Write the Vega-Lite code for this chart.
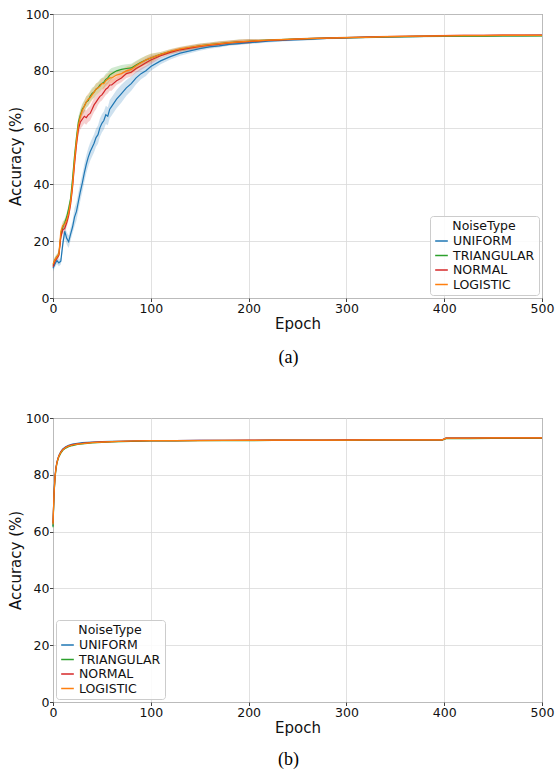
{
  "$schema": "https://vega.github.io/schema/vega-lite/v6.json",
  "background": "white",
  "padding": {"left": 8, "top": 7, "right": 0, "bottom": 0},
  "config": {
    "font": "DejaVu Sans",
    "view": {"stroke": "#444444", "strokeWidth": 1},
    "axis": {
      "labelFont": "DejaVu Sans", "labelFontSize": 12.5, "labelColor": "#111111",
      "titleFont": "DejaVu Sans", "titleFontSize": 15, "titleFontWeight": "normal", "titleColor": "#111111",
      "domain": false, "tickColor": "#444444", "tickSize": 3.5, "labelPadding": 0.5,
      "gridColor": "#d9d9d9", "gridWidth": 0.8, "labelFlush": false, "titlePadding": 1.5
    },
    "legend": {
      "labelFont": "DejaVu Sans", "labelFontSize": 12.5, "labelColor": "#111111",
      "titleFont": "DejaVu Sans", "titleFontSize": 12.5, "titleFontWeight": "normal", "titleColor": "#111111",
      "titleAnchor": "middle", "titlePadding": 1,
      "fillColor": "rgba(255,255,255,0.85)", "strokeColor": "#cccccc", "cornerRadius": 3,
      "padding": 4, "offset": 3, "rowPadding": 0.5,
      "symbolType": "stroke", "symbolSize": 160, "symbolStrokeWidth": 1.5, "labelOffset": 4
    }
  },
  "datasets": {
    "a": [
      {"e":0,"n":"UNIFORM","y":10.5,"lo":9.3,"hi":11.7},{"e":2,"n":"UNIFORM","y":12.0,"lo":10.8,"hi":13.2},{"e":4,"n":"UNIFORM","y":13.2,"lo":12.0,"hi":14.4},{"e":6,"n":"UNIFORM","y":12.4,"lo":11.2,"hi":13.6},{"e":8,"n":"UNIFORM","y":13.0,"lo":11.8,"hi":14.2},{"e":10,"n":"UNIFORM","y":19.0,"lo":16.8,"hi":21.2},{"e":12,"n":"UNIFORM","y":23.5,"lo":21.3,"hi":25.7},{"e":14,"n":"UNIFORM","y":21.0,"lo":18.8,"hi":23.2},{"e":16,"n":"UNIFORM","y":19.8,"lo":17.6,"hi":22.0},{"e":18,"n":"UNIFORM","y":22.5,"lo":20.3,"hi":24.7},{"e":20,"n":"UNIFORM","y":25.0,"lo":22.8,"hi":27.2},{"e":22,"n":"UNIFORM","y":28.5,"lo":25.3,"hi":31.7},{"e":24,"n":"UNIFORM","y":30.5,"lo":27.3,"hi":33.7},{"e":26,"n":"UNIFORM","y":34.0,"lo":30.8,"hi":37.2},{"e":28,"n":"UNIFORM","y":37.5,"lo":34.3,"hi":40.7},{"e":30,"n":"UNIFORM","y":40.5,"lo":37.3,"hi":43.7},{"e":32,"n":"UNIFORM","y":44.0,"lo":40.8,"hi":47.2},{"e":34,"n":"UNIFORM","y":47.0,"lo":43.8,"hi":50.2},{"e":36,"n":"UNIFORM","y":49.5,"lo":46.3,"hi":52.7},{"e":38,"n":"UNIFORM","y":51.5,"lo":48.3,"hi":54.7},{"e":40,"n":"UNIFORM","y":53.0,"lo":49.8,"hi":56.2},{"e":42,"n":"UNIFORM","y":54.5,"lo":51.3,"hi":57.7},{"e":44,"n":"UNIFORM","y":56.5,"lo":53.3,"hi":59.7},{"e":46,"n":"UNIFORM","y":57.5,"lo":54.3,"hi":60.7},{"e":48,"n":"UNIFORM","y":60.0,"lo":56.8,"hi":63.2},{"e":50,"n":"UNIFORM","y":61.5,"lo":58.3,"hi":64.7},{"e":52,"n":"UNIFORM","y":62.5,"lo":59.3,"hi":65.7},{"e":54,"n":"UNIFORM","y":64.5,"lo":61.3,"hi":67.7},{"e":56,"n":"UNIFORM","y":64.0,"lo":60.8,"hi":67.2},{"e":58,"n":"UNIFORM","y":66.5,"lo":63.3,"hi":69.7},{"e":60,"n":"UNIFORM","y":67.5,"lo":64.3,"hi":70.7},{"e":65,"n":"UNIFORM","y":70.0,"lo":66.8,"hi":73.2},{"e":70,"n":"UNIFORM","y":72.0,"lo":68.8,"hi":75.2},{"e":75,"n":"UNIFORM","y":74.0,"lo":71.2,"hi":76.8},{"e":80,"n":"UNIFORM","y":75.5,"lo":73.0,"hi":78.0},{"e":85,"n":"UNIFORM","y":77.5,"lo":75.3,"hi":79.7},{"e":90,"n":"UNIFORM","y":79.0,"lo":77.0,"hi":81.0},{"e":95,"n":"UNIFORM","y":80.0,"lo":78.2,"hi":81.8},{"e":100,"n":"UNIFORM","y":81.5,"lo":80.0,"hi":83.0},{"e":110,"n":"UNIFORM","y":83.5,"lo":82.3,"hi":84.7},{"e":120,"n":"UNIFORM","y":85.0,"lo":84.0,"hi":86.0},{"e":130,"n":"UNIFORM","y":86.2,"lo":85.3,"hi":87.1},{"e":140,"n":"UNIFORM","y":87.0,"lo":86.2,"hi":87.8},{"e":150,"n":"UNIFORM","y":87.8,"lo":87.1,"hi":88.5},{"e":160,"n":"UNIFORM","y":88.4,"lo":87.8,"hi":89.0},{"e":170,"n":"UNIFORM","y":88.8,"lo":88.2,"hi":89.4},{"e":180,"n":"UNIFORM","y":89.3,"lo":88.8,"hi":89.8},{"e":190,"n":"UNIFORM","y":89.6,"lo":89.1,"hi":90.1},{"e":200,"n":"UNIFORM","y":89.9,"lo":89.4,"hi":90.4},{"e":220,"n":"UNIFORM","y":90.4,"lo":90.0,"hi":90.8},{"e":240,"n":"UNIFORM","y":90.8,"lo":90.4,"hi":91.2},{"e":260,"n":"UNIFORM","y":91.1,"lo":90.7,"hi":91.5},{"e":280,"n":"UNIFORM","y":91.4,"lo":91.1,"hi":91.7},{"e":300,"n":"UNIFORM","y":91.6,"lo":91.3,"hi":91.9},{"e":320,"n":"UNIFORM","y":91.8,"lo":91.5,"hi":92.1},{"e":340,"n":"UNIFORM","y":91.9,"lo":91.6,"hi":92.2},{"e":360,"n":"UNIFORM","y":92.0,"lo":91.7,"hi":92.3},{"e":380,"n":"UNIFORM","y":92.1,"lo":91.8,"hi":92.4},{"e":400,"n":"UNIFORM","y":92.2,"lo":91.9,"hi":92.5},{"e":420,"n":"UNIFORM","y":92.3,"lo":92.0,"hi":92.6},{"e":440,"n":"UNIFORM","y":92.3,"lo":92.0,"hi":92.6},{"e":460,"n":"UNIFORM","y":92.4,"lo":92.1,"hi":92.7},{"e":480,"n":"UNIFORM","y":92.4,"lo":92.1,"hi":92.7},{"e":500,"n":"UNIFORM","y":92.5,"lo":92.2,"hi":92.8},
      {"e":0,"n":"TRIANGULAR","y":11.5,"lo":10.5,"hi":12.5},{"e":2,"n":"TRIANGULAR","y":13.5,"lo":12.5,"hi":14.5},{"e":4,"n":"TRIANGULAR","y":14.5,"lo":13.5,"hi":15.5},{"e":6,"n":"TRIANGULAR","y":15.5,"lo":14.5,"hi":16.5},{"e":8,"n":"TRIANGULAR","y":22.0,"lo":20.5,"hi":23.5},{"e":10,"n":"TRIANGULAR","y":25.0,"lo":23.5,"hi":26.5},{"e":12,"n":"TRIANGULAR","y":26.5,"lo":25.0,"hi":28.0},{"e":14,"n":"TRIANGULAR","y":28.5,"lo":27.0,"hi":30.0},{"e":16,"n":"TRIANGULAR","y":31.5,"lo":30.0,"hi":33.0},{"e":18,"n":"TRIANGULAR","y":35.0,"lo":33.5,"hi":36.5},{"e":20,"n":"TRIANGULAR","y":42.0,"lo":40.0,"hi":44.0},{"e":22,"n":"TRIANGULAR","y":50.0,"lo":48.0,"hi":52.0},{"e":24,"n":"TRIANGULAR","y":56.5,"lo":54.5,"hi":58.5},{"e":26,"n":"TRIANGULAR","y":62.0,"lo":60.0,"hi":64.0},{"e":28,"n":"TRIANGULAR","y":64.5,"lo":62.5,"hi":66.5},{"e":30,"n":"TRIANGULAR","y":66.5,"lo":64.5,"hi":68.5},{"e":32,"n":"TRIANGULAR","y":67.5,"lo":65.5,"hi":69.5},{"e":34,"n":"TRIANGULAR","y":69.0,"lo":67.0,"hi":71.0},{"e":36,"n":"TRIANGULAR","y":69.5,"lo":67.5,"hi":71.5},{"e":38,"n":"TRIANGULAR","y":71.0,"lo":69.0,"hi":73.0},{"e":40,"n":"TRIANGULAR","y":72.0,"lo":70.0,"hi":74.0},{"e":42,"n":"TRIANGULAR","y":72.5,"lo":70.5,"hi":74.5},{"e":44,"n":"TRIANGULAR","y":73.5,"lo":71.5,"hi":75.5},{"e":46,"n":"TRIANGULAR","y":74.0,"lo":72.0,"hi":76.0},{"e":48,"n":"TRIANGULAR","y":75.0,"lo":73.0,"hi":77.0},{"e":50,"n":"TRIANGULAR","y":75.5,"lo":73.5,"hi":77.5},{"e":52,"n":"TRIANGULAR","y":76.0,"lo":74.0,"hi":78.0},{"e":54,"n":"TRIANGULAR","y":77.0,"lo":75.0,"hi":79.0},{"e":56,"n":"TRIANGULAR","y":77.5,"lo":75.5,"hi":79.5},{"e":58,"n":"TRIANGULAR","y":78.5,"lo":76.5,"hi":80.5},{"e":60,"n":"TRIANGULAR","y":79.0,"lo":77.0,"hi":81.0},{"e":65,"n":"TRIANGULAR","y":80.0,"lo":78.5,"hi":81.5},{"e":70,"n":"TRIANGULAR","y":80.5,"lo":79.0,"hi":82.0},{"e":75,"n":"TRIANGULAR","y":80.8,"lo":79.3,"hi":82.3},{"e":80,"n":"TRIANGULAR","y":81.0,"lo":79.5,"hi":82.5},{"e":85,"n":"TRIANGULAR","y":82.0,"lo":80.5,"hi":83.5},{"e":90,"n":"TRIANGULAR","y":83.0,"lo":81.5,"hi":84.5},{"e":95,"n":"TRIANGULAR","y":83.8,"lo":82.3,"hi":85.3},{"e":100,"n":"TRIANGULAR","y":84.5,"lo":83.0,"hi":86.0},{"e":110,"n":"TRIANGULAR","y":85.8,"lo":85.0,"hi":86.6},{"e":120,"n":"TRIANGULAR","y":86.8,"lo":86.0,"hi":87.6},{"e":130,"n":"TRIANGULAR","y":87.6,"lo":86.8,"hi":88.4},{"e":140,"n":"TRIANGULAR","y":88.2,"lo":87.4,"hi":89.0},{"e":150,"n":"TRIANGULAR","y":88.8,"lo":88.0,"hi":89.6},{"e":160,"n":"TRIANGULAR","y":89.2,"lo":88.4,"hi":90.0},{"e":170,"n":"TRIANGULAR","y":89.6,"lo":88.8,"hi":90.4},{"e":180,"n":"TRIANGULAR","y":89.9,"lo":89.1,"hi":90.7},{"e":190,"n":"TRIANGULAR","y":90.2,"lo":89.4,"hi":91.0},{"e":200,"n":"TRIANGULAR","y":90.4,"lo":89.6,"hi":91.2},{"e":220,"n":"TRIANGULAR","y":90.8,"lo":90.5,"hi":91.1},{"e":240,"n":"TRIANGULAR","y":91.1,"lo":90.8,"hi":91.4},{"e":260,"n":"TRIANGULAR","y":91.3,"lo":91.0,"hi":91.6},{"e":280,"n":"TRIANGULAR","y":91.5,"lo":91.2,"hi":91.8},{"e":300,"n":"TRIANGULAR","y":91.7,"lo":91.4,"hi":92.0},{"e":320,"n":"TRIANGULAR","y":91.8,"lo":91.5,"hi":92.1},{"e":340,"n":"TRIANGULAR","y":91.9,"lo":91.6,"hi":92.2},{"e":360,"n":"TRIANGULAR","y":92.0,"lo":91.7,"hi":92.3},{"e":380,"n":"TRIANGULAR","y":92.1,"lo":91.8,"hi":92.4},{"e":400,"n":"TRIANGULAR","y":92.2,"lo":91.9,"hi":92.5},{"e":420,"n":"TRIANGULAR","y":92.2,"lo":91.9,"hi":92.5},{"e":440,"n":"TRIANGULAR","y":92.2,"lo":91.9,"hi":92.5},{"e":460,"n":"TRIANGULAR","y":92.3,"lo":92.0,"hi":92.6},{"e":480,"n":"TRIANGULAR","y":92.3,"lo":92.0,"hi":92.6},{"e":500,"n":"TRIANGULAR","y":92.3,"lo":92.0,"hi":92.6},
      {"e":0,"n":"NORMAL","y":11.0,"lo":10.0,"hi":12.0},{"e":2,"n":"NORMAL","y":13.0,"lo":12.0,"hi":14.0},{"e":4,"n":"NORMAL","y":14.0,"lo":13.0,"hi":15.0},{"e":6,"n":"NORMAL","y":15.0,"lo":14.0,"hi":16.0},{"e":8,"n":"NORMAL","y":21.5,"lo":20.0,"hi":23.0},{"e":10,"n":"NORMAL","y":24.0,"lo":22.5,"hi":25.5},{"e":12,"n":"NORMAL","y":24.5,"lo":23.0,"hi":26.0},{"e":14,"n":"NORMAL","y":26.5,"lo":25.0,"hi":28.0},{"e":16,"n":"NORMAL","y":29.0,"lo":27.5,"hi":30.5},{"e":18,"n":"NORMAL","y":33.0,"lo":31.5,"hi":34.5},{"e":20,"n":"NORMAL","y":39.0,"lo":37.0,"hi":41.0},{"e":22,"n":"NORMAL","y":47.0,"lo":45.0,"hi":49.0},{"e":24,"n":"NORMAL","y":54.0,"lo":52.0,"hi":56.0},{"e":26,"n":"NORMAL","y":59.5,"lo":57.5,"hi":61.5},{"e":28,"n":"NORMAL","y":62.0,"lo":59.5,"hi":64.5},{"e":30,"n":"NORMAL","y":63.0,"lo":60.5,"hi":65.5},{"e":32,"n":"NORMAL","y":64.0,"lo":61.5,"hi":66.5},{"e":34,"n":"NORMAL","y":63.5,"lo":61.0,"hi":66.0},{"e":36,"n":"NORMAL","y":64.5,"lo":62.0,"hi":67.0},{"e":38,"n":"NORMAL","y":65.0,"lo":62.5,"hi":67.5},{"e":40,"n":"NORMAL","y":66.5,"lo":64.0,"hi":69.0},{"e":42,"n":"NORMAL","y":68.0,"lo":65.5,"hi":70.5},{"e":44,"n":"NORMAL","y":69.0,"lo":66.5,"hi":71.5},{"e":46,"n":"NORMAL","y":70.0,"lo":68.0,"hi":72.0},{"e":48,"n":"NORMAL","y":71.0,"lo":69.0,"hi":73.0},{"e":50,"n":"NORMAL","y":71.5,"lo":69.5,"hi":73.5},{"e":52,"n":"NORMAL","y":72.5,"lo":70.5,"hi":74.5},{"e":54,"n":"NORMAL","y":73.5,"lo":71.5,"hi":75.5},{"e":56,"n":"NORMAL","y":74.0,"lo":72.0,"hi":76.0},{"e":58,"n":"NORMAL","y":75.0,"lo":73.0,"hi":77.0},{"e":60,"n":"NORMAL","y":75.0,"lo":73.0,"hi":77.0},{"e":65,"n":"NORMAL","y":76.5,"lo":75.0,"hi":78.0},{"e":70,"n":"NORMAL","y":77.5,"lo":76.0,"hi":79.0},{"e":75,"n":"NORMAL","y":79.0,"lo":77.5,"hi":80.5},{"e":80,"n":"NORMAL","y":79.5,"lo":78.0,"hi":81.0},{"e":85,"n":"NORMAL","y":80.8,"lo":79.3,"hi":82.3},{"e":90,"n":"NORMAL","y":81.8,"lo":80.3,"hi":83.3},{"e":95,"n":"NORMAL","y":82.8,"lo":81.3,"hi":84.3},{"e":100,"n":"NORMAL","y":83.8,"lo":82.3,"hi":85.3},{"e":110,"n":"NORMAL","y":85.3,"lo":84.5,"hi":86.1},{"e":120,"n":"NORMAL","y":86.5,"lo":85.7,"hi":87.3},{"e":130,"n":"NORMAL","y":87.4,"lo":86.6,"hi":88.2},{"e":140,"n":"NORMAL","y":88.0,"lo":87.2,"hi":88.8},{"e":150,"n":"NORMAL","y":88.6,"lo":87.8,"hi":89.4},{"e":160,"n":"NORMAL","y":89.0,"lo":88.2,"hi":89.8},{"e":170,"n":"NORMAL","y":89.4,"lo":88.6,"hi":90.2},{"e":180,"n":"NORMAL","y":89.8,"lo":89.0,"hi":90.6},{"e":190,"n":"NORMAL","y":90.1,"lo":89.3,"hi":90.9},{"e":200,"n":"NORMAL","y":90.3,"lo":89.5,"hi":91.1},{"e":220,"n":"NORMAL","y":90.7,"lo":90.4,"hi":91.0},{"e":240,"n":"NORMAL","y":91.0,"lo":90.7,"hi":91.3},{"e":260,"n":"NORMAL","y":91.3,"lo":91.0,"hi":91.6},{"e":280,"n":"NORMAL","y":91.5,"lo":91.2,"hi":91.8},{"e":300,"n":"NORMAL","y":91.7,"lo":91.4,"hi":92.0},{"e":320,"n":"NORMAL","y":91.9,"lo":91.6,"hi":92.2},{"e":340,"n":"NORMAL","y":92.0,"lo":91.7,"hi":92.3},{"e":360,"n":"NORMAL","y":92.1,"lo":91.8,"hi":92.4},{"e":380,"n":"NORMAL","y":92.2,"lo":91.9,"hi":92.5},{"e":400,"n":"NORMAL","y":92.4,"lo":92.1,"hi":92.7},{"e":420,"n":"NORMAL","y":92.5,"lo":92.2,"hi":92.8},{"e":440,"n":"NORMAL","y":92.5,"lo":92.2,"hi":92.8},{"e":460,"n":"NORMAL","y":92.6,"lo":92.3,"hi":92.9},{"e":480,"n":"NORMAL","y":92.6,"lo":92.3,"hi":92.9},{"e":500,"n":"NORMAL","y":92.6,"lo":92.3,"hi":92.9},
      {"e":0,"n":"LOGISTIC","y":12.0,"lo":11.0,"hi":13.0},{"e":2,"n":"LOGISTIC","y":13.5,"lo":12.5,"hi":14.5},{"e":4,"n":"LOGISTIC","y":14.5,"lo":13.5,"hi":15.5},{"e":6,"n":"LOGISTIC","y":15.5,"lo":14.5,"hi":16.5},{"e":8,"n":"LOGISTIC","y":23.5,"lo":22.0,"hi":25.0},{"e":10,"n":"LOGISTIC","y":25.5,"lo":24.0,"hi":27.0},{"e":12,"n":"LOGISTIC","y":26.0,"lo":24.5,"hi":27.5},{"e":14,"n":"LOGISTIC","y":27.5,"lo":26.0,"hi":29.0},{"e":16,"n":"LOGISTIC","y":30.0,"lo":28.5,"hi":31.5},{"e":18,"n":"LOGISTIC","y":34.0,"lo":32.5,"hi":35.5},{"e":20,"n":"LOGISTIC","y":40.0,"lo":38.0,"hi":42.0},{"e":22,"n":"LOGISTIC","y":48.5,"lo":46.5,"hi":50.5},{"e":24,"n":"LOGISTIC","y":55.5,"lo":53.5,"hi":57.5},{"e":26,"n":"LOGISTIC","y":61.0,"lo":59.0,"hi":63.0},{"e":28,"n":"LOGISTIC","y":64.0,"lo":62.0,"hi":66.0},{"e":30,"n":"LOGISTIC","y":66.0,"lo":64.0,"hi":68.0},{"e":32,"n":"LOGISTIC","y":67.5,"lo":65.5,"hi":69.5},{"e":34,"n":"LOGISTIC","y":69.0,"lo":67.0,"hi":71.0},{"e":36,"n":"LOGISTIC","y":70.0,"lo":68.0,"hi":72.0},{"e":38,"n":"LOGISTIC","y":70.5,"lo":68.5,"hi":72.5},{"e":40,"n":"LOGISTIC","y":71.5,"lo":69.5,"hi":73.5},{"e":42,"n":"LOGISTIC","y":72.5,"lo":70.5,"hi":74.5},{"e":44,"n":"LOGISTIC","y":73.5,"lo":71.5,"hi":75.5},{"e":46,"n":"LOGISTIC","y":74.0,"lo":72.0,"hi":76.0},{"e":48,"n":"LOGISTIC","y":74.5,"lo":72.5,"hi":76.5},{"e":50,"n":"LOGISTIC","y":75.5,"lo":73.5,"hi":77.5},{"e":52,"n":"LOGISTIC","y":75.5,"lo":73.5,"hi":77.5},{"e":54,"n":"LOGISTIC","y":76.5,"lo":74.5,"hi":78.5},{"e":56,"n":"LOGISTIC","y":77.0,"lo":75.0,"hi":79.0},{"e":58,"n":"LOGISTIC","y":77.5,"lo":75.5,"hi":79.5},{"e":60,"n":"LOGISTIC","y":77.5,"lo":75.5,"hi":79.5},{"e":65,"n":"LOGISTIC","y":78.5,"lo":77.0,"hi":80.0},{"e":70,"n":"LOGISTIC","y":79.0,"lo":77.5,"hi":80.5},{"e":75,"n":"LOGISTIC","y":80.0,"lo":78.5,"hi":81.5},{"e":80,"n":"LOGISTIC","y":80.5,"lo":79.0,"hi":82.0},{"e":85,"n":"LOGISTIC","y":81.8,"lo":80.3,"hi":83.3},{"e":90,"n":"LOGISTIC","y":82.8,"lo":81.3,"hi":84.3},{"e":95,"n":"LOGISTIC","y":83.8,"lo":82.3,"hi":85.3},{"e":100,"n":"LOGISTIC","y":84.5,"lo":83.0,"hi":86.0},{"e":110,"n":"LOGISTIC","y":85.8,"lo":85.0,"hi":86.6},{"e":120,"n":"LOGISTIC","y":86.9,"lo":86.1,"hi":87.7},{"e":130,"n":"LOGISTIC","y":87.7,"lo":86.9,"hi":88.5},{"e":140,"n":"LOGISTIC","y":88.3,"lo":87.5,"hi":89.1},{"e":150,"n":"LOGISTIC","y":88.8,"lo":88.0,"hi":89.6},{"e":160,"n":"LOGISTIC","y":89.2,"lo":88.4,"hi":90.0},{"e":170,"n":"LOGISTIC","y":89.6,"lo":88.8,"hi":90.4},{"e":180,"n":"LOGISTIC","y":89.9,"lo":89.1,"hi":90.7},{"e":190,"n":"LOGISTIC","y":90.2,"lo":89.4,"hi":91.0},{"e":200,"n":"LOGISTIC","y":90.4,"lo":89.6,"hi":91.2},{"e":220,"n":"LOGISTIC","y":90.8,"lo":90.5,"hi":91.1},{"e":240,"n":"LOGISTIC","y":91.1,"lo":90.8,"hi":91.4},{"e":260,"n":"LOGISTIC","y":91.3,"lo":91.0,"hi":91.6},{"e":280,"n":"LOGISTIC","y":91.5,"lo":91.2,"hi":91.8},{"e":300,"n":"LOGISTIC","y":91.7,"lo":91.4,"hi":92.0},{"e":320,"n":"LOGISTIC","y":91.8,"lo":91.5,"hi":92.1},{"e":340,"n":"LOGISTIC","y":92.0,"lo":91.7,"hi":92.3},{"e":360,"n":"LOGISTIC","y":92.1,"lo":91.8,"hi":92.4},{"e":380,"n":"LOGISTIC","y":92.2,"lo":91.9,"hi":92.5},{"e":400,"n":"LOGISTIC","y":92.3,"lo":92.0,"hi":92.6},{"e":420,"n":"LOGISTIC","y":92.4,"lo":92.1,"hi":92.7},{"e":440,"n":"LOGISTIC","y":92.4,"lo":92.1,"hi":92.7},{"e":460,"n":"LOGISTIC","y":92.5,"lo":92.2,"hi":92.8},{"e":480,"n":"LOGISTIC","y":92.5,"lo":92.2,"hi":92.8},{"e":500,"n":"LOGISTIC","y":92.5,"lo":92.2,"hi":92.8}
    ],
    "b": [
      {"e":0,"n":"UNIFORM","y":62.0},{"e":1,"n":"UNIFORM","y":73.5},{"e":2,"n":"UNIFORM","y":79.5},{"e":3,"n":"UNIFORM","y":82.5},{"e":4,"n":"UNIFORM","y":84.5},{"e":5,"n":"UNIFORM","y":85.8},{"e":6,"n":"UNIFORM","y":86.8},{"e":8,"n":"UNIFORM","y":88.2},{"e":10,"n":"UNIFORM","y":89.1},{"e":13,"n":"UNIFORM","y":89.9},{"e":16,"n":"UNIFORM","y":90.4},{"e":20,"n":"UNIFORM","y":90.8},{"e":25,"n":"UNIFORM","y":91.1},{"e":30,"n":"UNIFORM","y":91.3},{"e":40,"n":"UNIFORM","y":91.5},{"e":50,"n":"UNIFORM","y":91.7},{"e":60,"n":"UNIFORM","y":91.8},{"e":80,"n":"UNIFORM","y":91.9},{"e":100,"n":"UNIFORM","y":92.0},{"e":125,"n":"UNIFORM","y":92.0},{"e":150,"n":"UNIFORM","y":92.1},{"e":175,"n":"UNIFORM","y":92.1},{"e":200,"n":"UNIFORM","y":92.1},{"e":225,"n":"UNIFORM","y":92.2},{"e":250,"n":"UNIFORM","y":92.2},{"e":275,"n":"UNIFORM","y":92.2},{"e":300,"n":"UNIFORM","y":92.2},{"e":325,"n":"UNIFORM","y":92.3},{"e":350,"n":"UNIFORM","y":92.3},{"e":375,"n":"UNIFORM","y":92.3},{"e":398,"n":"UNIFORM","y":92.3},{"e":402,"n":"UNIFORM","y":93.0},{"e":425,"n":"UNIFORM","y":93.0},{"e":450,"n":"UNIFORM","y":93.1},{"e":475,"n":"UNIFORM","y":93.1},{"e":500,"n":"UNIFORM","y":93.1},
      {"e":0,"n":"TRIANGULAR","y":61.5},{"e":1,"n":"TRIANGULAR","y":72.5},{"e":2,"n":"TRIANGULAR","y":78.5},{"e":3,"n":"TRIANGULAR","y":81.8},{"e":4,"n":"TRIANGULAR","y":84.0},{"e":5,"n":"TRIANGULAR","y":85.2},{"e":6,"n":"TRIANGULAR","y":86.3},{"e":8,"n":"TRIANGULAR","y":87.6},{"e":10,"n":"TRIANGULAR","y":88.6},{"e":13,"n":"TRIANGULAR","y":89.4},{"e":16,"n":"TRIANGULAR","y":89.9},{"e":20,"n":"TRIANGULAR","y":90.3},{"e":25,"n":"TRIANGULAR","y":90.7},{"e":30,"n":"TRIANGULAR","y":90.9},{"e":40,"n":"TRIANGULAR","y":91.2},{"e":50,"n":"TRIANGULAR","y":91.4},{"e":60,"n":"TRIANGULAR","y":91.6},{"e":80,"n":"TRIANGULAR","y":91.8},{"e":100,"n":"TRIANGULAR","y":91.9},{"e":125,"n":"TRIANGULAR","y":91.9},{"e":150,"n":"TRIANGULAR","y":92.0},{"e":175,"n":"TRIANGULAR","y":92.0},{"e":200,"n":"TRIANGULAR","y":92.0},{"e":225,"n":"TRIANGULAR","y":92.1},{"e":250,"n":"TRIANGULAR","y":92.1},{"e":275,"n":"TRIANGULAR","y":92.1},{"e":300,"n":"TRIANGULAR","y":92.1},{"e":325,"n":"TRIANGULAR","y":92.2},{"e":350,"n":"TRIANGULAR","y":92.2},{"e":375,"n":"TRIANGULAR","y":92.2},{"e":398,"n":"TRIANGULAR","y":92.2},{"e":402,"n":"TRIANGULAR","y":92.7},{"e":425,"n":"TRIANGULAR","y":92.7},{"e":450,"n":"TRIANGULAR","y":92.8},{"e":475,"n":"TRIANGULAR","y":92.8},{"e":500,"n":"TRIANGULAR","y":92.8},
      {"e":0,"n":"NORMAL","y":63.0},{"e":1,"n":"NORMAL","y":73.0},{"e":2,"n":"NORMAL","y":79.0},{"e":3,"n":"NORMAL","y":82.3},{"e":4,"n":"NORMAL","y":84.3},{"e":5,"n":"NORMAL","y":85.6},{"e":6,"n":"NORMAL","y":86.6},{"e":8,"n":"NORMAL","y":88.0},{"e":10,"n":"NORMAL","y":88.9},{"e":13,"n":"NORMAL","y":89.7},{"e":16,"n":"NORMAL","y":90.2},{"e":20,"n":"NORMAL","y":90.6},{"e":25,"n":"NORMAL","y":90.9},{"e":30,"n":"NORMAL","y":91.1},{"e":40,"n":"NORMAL","y":91.4},{"e":50,"n":"NORMAL","y":91.6},{"e":60,"n":"NORMAL","y":91.7},{"e":80,"n":"NORMAL","y":91.9},{"e":100,"n":"NORMAL","y":92.0},{"e":125,"n":"NORMAL","y":92.0},{"e":150,"n":"NORMAL","y":92.1},{"e":175,"n":"NORMAL","y":92.1},{"e":200,"n":"NORMAL","y":92.2},{"e":225,"n":"NORMAL","y":92.2},{"e":250,"n":"NORMAL","y":92.2},{"e":275,"n":"NORMAL","y":92.2},{"e":300,"n":"NORMAL","y":92.3},{"e":325,"n":"NORMAL","y":92.3},{"e":350,"n":"NORMAL","y":92.3},{"e":375,"n":"NORMAL","y":92.3},{"e":398,"n":"NORMAL","y":92.3},{"e":402,"n":"NORMAL","y":92.9},{"e":425,"n":"NORMAL","y":92.9},{"e":450,"n":"NORMAL","y":93.0},{"e":475,"n":"NORMAL","y":93.0},{"e":500,"n":"NORMAL","y":93.0},
      {"e":0,"n":"LOGISTIC","y":62.5},{"e":1,"n":"LOGISTIC","y":73.0},{"e":2,"n":"LOGISTIC","y":79.0},{"e":3,"n":"LOGISTIC","y":82.2},{"e":4,"n":"LOGISTIC","y":84.2},{"e":5,"n":"LOGISTIC","y":85.5},{"e":6,"n":"LOGISTIC","y":86.5},{"e":8,"n":"LOGISTIC","y":87.9},{"e":10,"n":"LOGISTIC","y":88.8},{"e":13,"n":"LOGISTIC","y":89.6},{"e":16,"n":"LOGISTIC","y":90.1},{"e":20,"n":"LOGISTIC","y":90.5},{"e":25,"n":"LOGISTIC","y":90.8},{"e":30,"n":"LOGISTIC","y":91.0},{"e":40,"n":"LOGISTIC","y":91.3},{"e":50,"n":"LOGISTIC","y":91.5},{"e":60,"n":"LOGISTIC","y":91.7},{"e":80,"n":"LOGISTIC","y":91.9},{"e":100,"n":"LOGISTIC","y":92.0},{"e":125,"n":"LOGISTIC","y":92.0},{"e":150,"n":"LOGISTIC","y":92.0},{"e":175,"n":"LOGISTIC","y":92.1},{"e":200,"n":"LOGISTIC","y":92.1},{"e":225,"n":"LOGISTIC","y":92.2},{"e":250,"n":"LOGISTIC","y":92.2},{"e":275,"n":"LOGISTIC","y":92.2},{"e":300,"n":"LOGISTIC","y":92.2},{"e":325,"n":"LOGISTIC","y":92.3},{"e":350,"n":"LOGISTIC","y":92.3},{"e":375,"n":"LOGISTIC","y":92.3},{"e":398,"n":"LOGISTIC","y":92.3},{"e":402,"n":"LOGISTIC","y":92.9},{"e":425,"n":"LOGISTIC","y":92.9},{"e":450,"n":"LOGISTIC","y":93.0},{"e":475,"n":"LOGISTIC","y":93.0},{"e":500,"n":"LOGISTIC","y":93.0}
    ]
  },
  "bounds": "flush",
  "spacing": 120,
  "resolve": {"legend": {"color": "independent"}, "scale": {"color": "independent"}},
  "vconcat": [
    {
      "width": 489, "height": 284,
      "data": {"name": "a"},
      "title": {"text": "(a)", "orient": "bottom", "anchor": "middle", "frame": "group", "dx": -9, "offset": 18, "font": "Liberation Serif", "fontSize": 18, "fontWeight": "normal", "color": "#000000"},
      "layer": [
        {
          "mark": {"type": "area", "opacity": 0.22},
          "encoding": {
            "x": {"field": "e", "type": "quantitative", "scale": {"domain": [0, 500]}, "axis": {"values": [0, 100, 200, 300, 400, 500]}, "title": "Epoch"},
            "y": {"field": "lo", "type": "quantitative", "scale": {"domain": [0, 100]}, "axis": {"values": [0, 20, 40, 60, 80, 100]}, "title": "Accuracy (%)"},
            "y2": {"field": "hi"},
            "fill": {"field": "n", "type": "nominal", "scale": {"domain": ["UNIFORM", "TRIANGULAR", "NORMAL", "LOGISTIC"], "range": ["#1f77b4", "#2ca02c", "#d62728", "#ff7f0e"]}, "legend": null}
          }
        },
        {
          "mark": {"type": "line", "strokeWidth": 1.2},
          "encoding": {
            "x": {"field": "e", "type": "quantitative", "scale": {"domain": [0, 500]}, "axis": {"values": [0, 100, 200, 300, 400, 500]}, "title": "Epoch"},
            "y": {"field": "y", "type": "quantitative", "scale": {"domain": [0, 100]}, "axis": {"values": [0, 20, 40, 60, 80, 100]}, "title": "Accuracy (%)"},
            "color": {"field": "n", "type": "nominal", "scale": {"domain": ["UNIFORM", "TRIANGULAR", "NORMAL", "LOGISTIC"], "range": ["#1f77b4", "#2ca02c", "#d62728", "#ff7f0e"]}, "legend": {"title": "NoiseType", "orient": "bottom-right"}}
          }
        }
      ]
    },
    {
      "width": 489, "height": 284,
      "data": {"name": "b"},
      "title": {"text": "(b)", "orient": "bottom", "anchor": "middle", "frame": "group", "dx": -9, "offset": 16, "font": "Liberation Serif", "fontSize": 18, "fontWeight": "normal", "color": "#000000"},
      "mark": {"type": "line", "strokeWidth": 1.2},
      "encoding": {
        "x": {"field": "e", "type": "quantitative", "scale": {"domain": [0, 500]}, "axis": {"values": [0, 100, 200, 300, 400, 500]}, "title": "Epoch"},
        "y": {"field": "y", "type": "quantitative", "scale": {"domain": [0, 100]}, "axis": {"values": [0, 20, 40, 60, 80, 100]}, "title": "Accuracy (%)"},
        "color": {"field": "n", "type": "nominal", "scale": {"domain": ["UNIFORM", "TRIANGULAR", "NORMAL", "LOGISTIC"], "range": ["#1f77b4", "#2ca02c", "#d62728", "#ff7f0e"]}, "legend": {"title": "NoiseType", "orient": "bottom-left"}}
      }
    }
  ]
}
